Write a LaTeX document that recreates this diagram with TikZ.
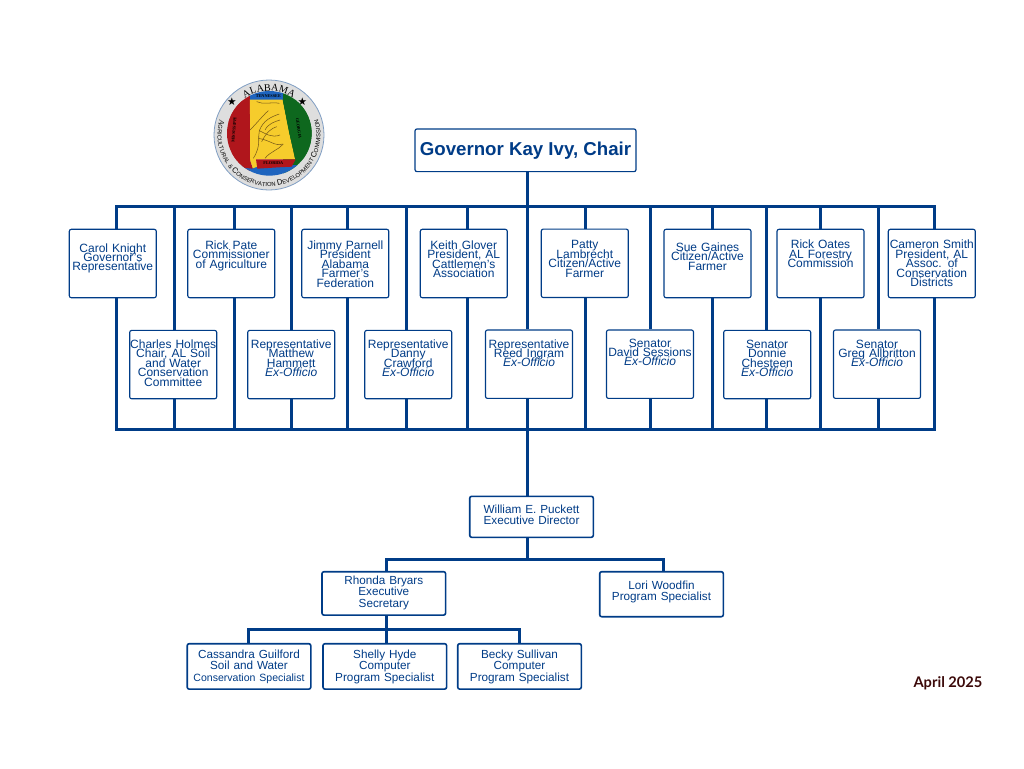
\documentclass[tikz,border=0pt]{standalone}
\usepackage{fontspec}
\setmainfont{Liberation Sans}
\newfontfamily\sealfont{Liberation Serif}
\newfontfamily\datefont{Lato}
\usetikzlibrary{decorations.text}
\definecolor{navy}{RGB}{0,60,135}
\definecolor{ringg}{RGB}{222,222,222}
\definecolor{sealr}{RGB}{176,22,28}
\definecolor{sealg}{RGB}{14,104,30}
\definecolor{sealy}{RGB}{246,204,44}
\definecolor{sealb}{RGB}{30,100,190}
\definecolor{river}{RGB}{120,90,25}
\definecolor{maroon}{RGB}{60,10,10}

\begin{document}
\begin{tikzpicture}[
  x=.75pt,y=-.75pt,
  e/.style={line width=2.25pt,draw=navy,line cap=butt,line join=miter},%
  bx/.style 2 args={draw=navy,fill=white,text=navy,rounded corners=1.5pt,
    inner xsep=0pt,inner ysep=0pt,align=center,text width=65.25pt,
    text height=#1*.75pt,text depth=(#2-#1)*.75pt,
    line width=.85pt,font=\fontsize{9}{7.1}\selectfont,
    execute at begin node={\lineskiplimit=-9pt\relax}},%
  st/.style 2 args={bx={#1}{#2},text width=92.7pt,line width=1.2pt,
    font=\fontsize{8.8}{8.6}\selectfont},%
  rv/.style={draw=river,line width=.4pt},%
  sl/.style={font=\sealfont\bfseries\fontsize{3.2}{4}\selectfont,text=black,inner sep=0pt}
  ]
  \useasboundingbox (0,0) rectangle (1024,768);

  % seal
  \begin{scope}[shift={(269,135)},x=.75pt,y=.75pt]
    \fill [ringg] (0,0) circle (55);
    \draw [navy!50,line width=.6pt] (0,0) circle (55);
    \path [decorate,decoration={text along path,text align=center,
      text={|\sealfont\fontsize{7.6}{9}\selectfont|ALABAMA}}]
      (128:44) arc [start angle=128,end angle=52,radius=44];
    \path [decorate,decoration={text along path,text align=fit to path,
      text={|\sealfont\fontsize{5.8}{7}\selectfont|A|\fontsize{4.4}{6}\selectfont|GRICULTURAL {\&} |\fontsize{5.8}{7}\selectfont|C|\fontsize{4.4}{6}\selectfont|ONSERVATION |\fontsize{5.8}{7}\selectfont|D|\fontsize{4.4}{6}\selectfont|EVELOPMENT |\fontsize{5.8}{7}\selectfont|C|\fontsize{4.4}{6}\selectfont|OMMISSION}}]
      (162:51.5) arc [start angle=162,end angle=378,radius=51.5];
  \end{scope}
  \begin{scope}[shift={(200,70)},x=.25pt,y=-.25pt]
    \node (stara) [text=black,inner sep=0pt,font=\fontspec{DejaVu Sans}\fontsize{8}{8}\selectfont] at (96,94) {★};
    \node (starb) [text=black,inner sep=0pt,font=\fontspec{DejaVu Sans}\fontsize{8}{8}\selectfont] at (307,94) {★};
    \begin{scope}
      \clip (208,190) circle (127);
      \fill [sealr] (70,60) rectangle (150,320);
      \fill [sealg] (248,60) rectangle (345,320);
      \fill [sealb] (150,60) rectangle (248,90);
      \fill [sealb] (70,285) rectangle (345,320);
      \fill [sealy] (149,89) -- (248,89) -- (268,190) -- (285,268) -- (168,268) -- (172,290)
        -- (158,295) -- (150,270) -- cycle;
      \fill [sealr] (168,268) -- (287,268) -- (275,290) -- (235,292) -- (172,296) -- cycle;
      \fill [sealr] (80,100) -- (149,89) -- (150,270) -- (158,296) -- (100,290) -- cycle;
      \fill [sealg] (248,89) -- (268,190) -- (287,268) -- (345,268) -- (345,89) -- cycle;
    \end{scope}
    \draw [rv] (170,95) .. controls (190,105) and (215,95) .. (238,100);
    \draw [rv] (238,132) .. controls (215,140) and (190,150) .. (178,182) .. controls (172,205) and (185,225) .. (160,265);
    \draw [rv] (205,122) .. controls (190,135) and (170,160) .. (150,180);
    \draw [rv] (178,182) .. controls (195,190) and (215,205) .. (240,195);
    \draw [rv] (175,205) .. controls (210,210) and (225,230) .. (248,222);
    \draw [rv] (250,222) .. controls (235,240) and (210,245) .. (195,265);
    \draw [rv] (230,170) .. controls (215,175) and (200,185) .. (185,215);
    \draw [rv] (240,150) .. controls (225,155) and (205,160) .. (195,180);
    \node (sealms) [sl,rotate=85] at (102,180) {MISSISSIPPI};
    \node (sealga) [sl,rotate=-82] at (296,175) {GEORGIA};
    \node (sealfl) [sl] at (220,280) {FLORIDA};
    \node (sealtn) [sl,text=black] at (205,78) {TENNESSEE};
  \end{scope}

  \node (gov) [draw=navy,fill=white,text=navy,rounded corners=1.5pt,line width=.9pt,
    inner sep=0pt,minimum width=165.75pt,minimum height=32pt,
    font=\bfseries\fontsize{14}{16}\selectfont] at (525.5,150.3) {Governor Kay Ivy, Chair};

  % upper row
  \node (carol) [bx={22.7}{68.4}] at (112.8,263.5) {Carol Knight\\Governor's\\Representative};
  \node (pate) [bx={20}{68.4}] at (231.3,263.5) {Rick Pate\\Commissioner\\of Agriculture};
  \node (jimmy) [bx={20}{68.4}] at (345.3,263.5) {Jimmy Parnell\\President\\Alabama\\Farmer's\\Federation};
  \node (keith) [bx={20}{68.4}] at (463.8,263.5) {Keith Glover\\President, AL\\Cattlemen's\\Association};
  \node (patty) [bx={19.5}{68.4}] at (584.8,263.3) {Patty\\Lambrecht\\Citizen/Active\\Farmer};
  \node (sue) [bx={22}{68.4}] at (707.5,263.5) {Sue Gaines\\Citizen/Active\\Farmer};
  \node (oates) [bx={19.5}{68.4}] at (820.5,263.5) {Rick Oates\\AL Forestry\\Commission};
  \node (cameron) [bx={19.5}{68.4}] at (931.8,263.5) {Cameron Smith\\President, AL\\Assoc. of\\Conservation\\Districts};

  % lower row
  \node (charles) [bx={18}{68.4}] at (173.2,364.6) {Charles Holmes\\Chair, AL Soil\\and Water\\Conservation\\Committee};
  \node (matthew) [bx={18}{68.4}] at (291.2,364.6) {Representative\\Matthew\\Hammett\\{\itshape Ex-Officio}};
  \node (danny) [bx={18}{68.4}] at (408.2,364.6) {Representative\\Danny\\Crawford\\{\itshape Ex-Officio}};
  \node (reed) [bx={18}{68.4}] at (529,364.2) {Representative\\Reed Ingram\\{\itshape Ex-Officio}};
  \node (david) [bx={17}{68.4}] at (650,364.2) {Senator\\David Sessions\\{\itshape Ex-Officio}};
  \node (donnie) [bx={18}{68.4}] at (767.2,364.6) {Senator\\Donnie\\Chesteen\\{\itshape Ex-Officio}};
  \node (greg) [bx={18}{68.4}] at (877,364.2) {Senator\\Greg Allbritton\\{\itshape Ex-Officio}};

  % staff
  \node (will) [st={17}{41}] at (531.5,516.8) {William E. Puckett\\Executive Director};
  \node (rhonda) [st={12.5}{43.4}] at (383.8,593.4) {Rhonda Bryars\\Executive\\Secretary};
  \node (lori) [st={17.5}{45}] at (661.5,594.2) {Lori Woodfin\\Program Specialist};
  \node (cass) [st={14.5}{45.4}] at (249,666.4) {Cassandra Guilford\\Soil and Water\\\fontsize{7.9}{8.6}\selectfont Conservation Specialist};
  \node (shelly) [st={14.5}{45.4}] at (384.8,666.4) {Shelly Hyde\\Computer\\Program Specialist};
  \node (becky) [st={14.5}{45.4}] at (519.5,666.4) {Becky Sullivan\\Computer\\Program Specialist};

  \node (date) [text=maroon,inner sep=0pt,font=\datefont\bfseries\fontsize{11}{12}\selectfont] at (948,683) {April 2025};

  % top of each column on the upper bus
  \coordinate (c1) at (116.7,206);
  \coordinate (c2) at (174.7,206);
  \coordinate (c3) at (234.3,206);
  \coordinate (c4) at (291,206);
  \coordinate (c5) at (347.7,206);
  \coordinate (c6) at (406.7,206);
  \coordinate (c7) at (467.7,206);
  \coordinate (cm) at (527.3,206);
  \coordinate (c8) at (585.3,206);
  \coordinate (c9) at (650,206);
  \coordinate (c10) at (712.7,206);
  \coordinate (c11) at (766,206);
  \coordinate (c12) at (820.7,206);
  \coordinate (c13) at (878,206);
  \coordinate (c14) at (934.3,206);
  \coordinate (bl) at (116.7,429.3);

  \draw [e] (c1 |- carol.north) -- (c1) -- (c14) -- (c14 |- cameron.north);
  \draw [e] (c1 |- carol.south) -- (c1 |- bl) -- (c14 |- bl) -- (c14 |- cameron.south);
  \draw [e] (cm |- gov.south) -- (cm);
  \draw [e] (c2) -- (c2 |- charles.north) (c2 |- charles.south) -- (c2 |- bl);
  \draw [e] (c3) -- (c3 |- pate.north) (c3 |- pate.south) -- (c3 |- bl);
  \draw [e] (c4) -- (c4 |- matthew.north) (c4 |- matthew.south) -- (c4 |- bl);
  \draw [e] (c5) -- (c5 |- jimmy.north) (c5 |- jimmy.south) -- (c5 |- bl);
  \draw [e] (c6) -- (c6 |- danny.north) (c6 |- danny.south) -- (c6 |- bl);
  \draw [e] (c7) -- (c7 |- keith.north) (c7 |- keith.south) -- (c7 |- bl);
  \draw [e] (cm) -- (cm |- reed.north) (cm |- reed.south) -- (cm |- will.north);
  \draw [e] (c8) -- (c8 |- patty.north) (c8 |- patty.south) -- (c8 |- bl);
  \draw [e] (c9) -- (c9 |- david.north) (c9 |- david.south) -- (c9 |- bl);
  \draw [e] (c10) -- (c10 |- sue.north) (c10 |- sue.south) -- (c10 |- bl);
  \draw [e] (c11) -- (c11 |- donnie.north) (c11 |- donnie.south) -- (c11 |- bl);
  \draw [e] (c12) -- (c12 |- oates.north) (c12 |- oates.south) -- (c12 |- bl);
  \draw [e] (c13) -- (c13 |- greg.north) (c13 |- greg.south) -- (c13 |- bl);

  \coordinate (lr) at (386.7,559);
  \coordinate (lm) at (527.3,559);
  \coordinate (lw) at (663.3,559);
  \draw [e] (lm |- will.south) -- (lm);
  \draw [e] (lr |- rhonda.north) -- (lr) -- (lw) -- (lw |- lori.north);

  \coordinate (s1) at (248.3,629);
  \coordinate (s2) at (386.7,629);
  \coordinate (s3) at (519.3,629);
  \draw [e] (s2 |- rhonda.south) -- (s2 |- shelly.north);
  \draw [e] (s1 |- cass.north) -- (s1) -- (s3) -- (s3 |- becky.north);
\end{tikzpicture}
\end{document}
